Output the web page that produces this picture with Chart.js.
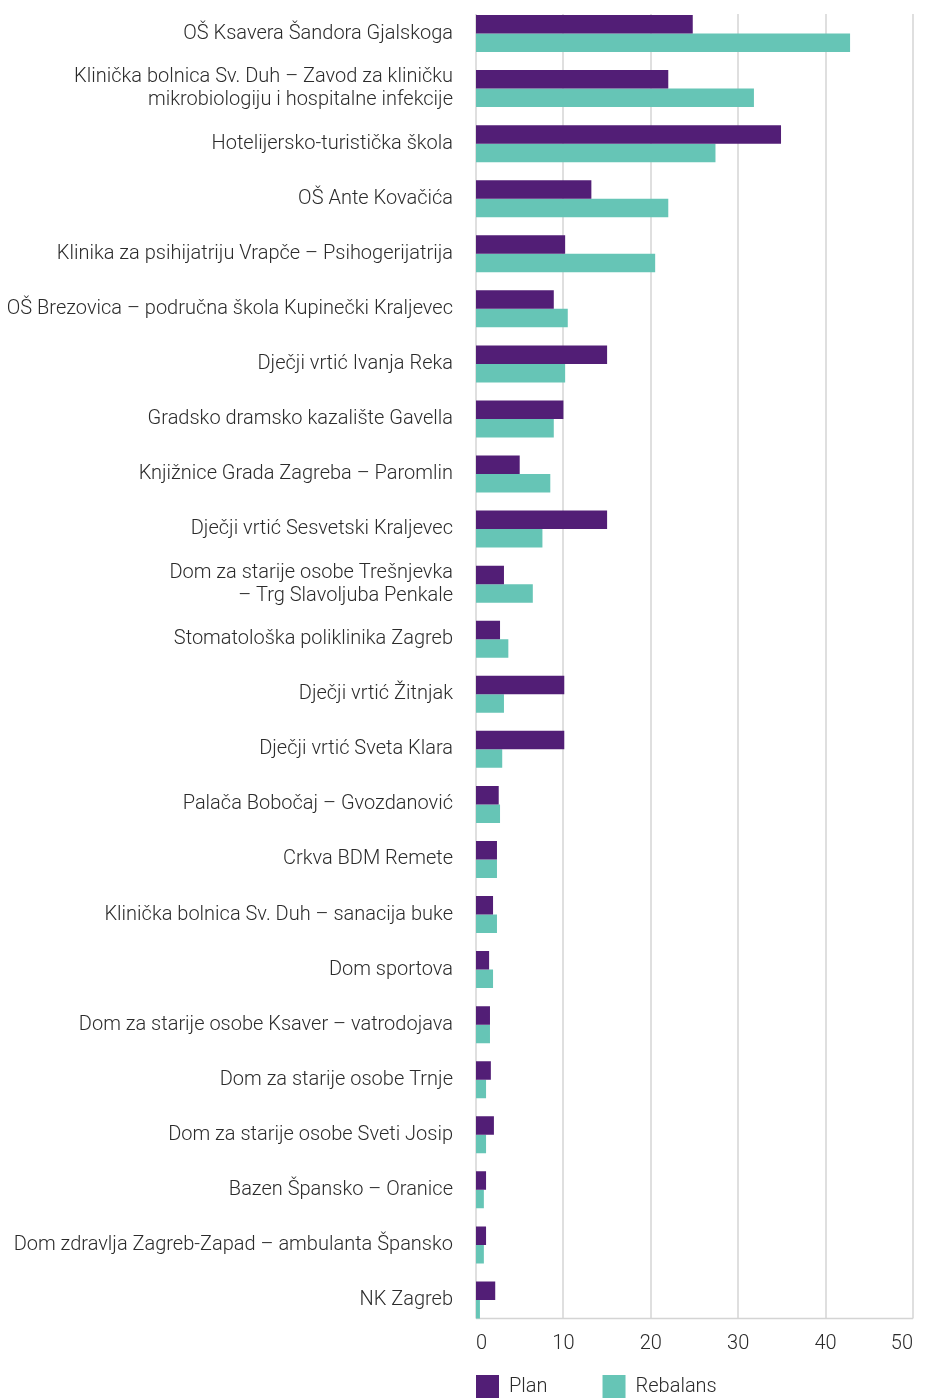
<!DOCTYPE html>
<html>
<head>
<meta charset="utf-8">
<script src="https://cdn.jsdelivr.net/npm/chart.js@4/dist/chart.umd.min.js"></script>
<style>
  html, body { margin: 0; padding: 0; background: #fff; }
  #wrap { width: 925px; height: 1399px; position: relative; }
</style>
</head>
<body>
<div id="wrap"><canvas id="myChart"></canvas></div>
<script>
const categories = [
  "OŠ Ksavera Šandora Gjalskoga",
  ["Klinička bolnica Sv. Duh – Zavod za kliničku", "mikrobiologiju i hospitalne infekcije"],
  "Hotelijersko-turistička škola",
  "OŠ Ante Kovačića",
  "Klinika za psihijatriju Vrapče – Psihogerijatrija",
  "OŠ Brezovica – područna škola Kupinečki Kraljevec",
  "Dječji vrtić Ivanja Reka",
  "Gradsko dramsko kazalište Gavella",
  "Knjižnice Grada Zagreba – Paromlin",
  "Dječji vrtić Sesvetski Kraljevec",
  ["Dom za starije osobe Trešnjevka", "– Trg Slavoljuba Penkale"],
  "Stomatološka poliklinika Zagreb",
  "Dječji vrtić Žitnjak",
  "Dječji vrtić Sveta Klara",
  "Palača Bobočaj – Gvozdanović",
  "Crkva BDM Remete",
  "Klinička bolnica Sv. Duh – sanacija buke",
  "Dom sportova",
  "Dom za starije osobe Ksaver – vatrodojava",
  "Dom za starije osobe Trnje",
  "Dom za starije osobe Sveti Josip",
  "Bazen Špansko – Oranice",
  "Dom zdravlja Zagreb-Zapad – ambulanta Špansko",
  "NK Zagreb"
];
const plan = [24.8, 22.0, 34.9, 13.2, 10.2, 8.9, 15.0, 10.0, 5.0, 15.0, 3.2, 2.75,
              10.1, 10.1, 2.6, 2.4, 1.95, 1.5, 1.6, 1.7, 2.05, 1.15, 1.15, 2.2];
const rebalans = [42.8, 31.8, 27.4, 22.0, 20.5, 10.5, 10.2, 8.9, 8.5, 7.6, 6.5, 3.7,
                  3.2, 3.0, 2.75, 2.4, 2.4, 1.95, 1.6, 1.15, 1.15, 0.9, 0.9, 0.45];
const xTicks = [0, 10, 20, 30, 40, 50];

const PURPLE = "#521e76";
const TEAL = "#66c5b6";
const GRID = "#d4d4d4";
const TEXT = "#2b2b2b";

Chart.defaults.font.family = "Roboto, 'Open Sans', sans-serif";
Chart.defaults.font.weight = 300;
Chart.defaults.color = TEXT;

// grid lines only span the bar block, like the original
const gridPlugin = {
  id: "gridPlugin",
  beforeDatasetsDraw(chart) {
    const { ctx } = chart;
    const x = chart.scales.x, y = chart.scales.y;
    const band = y.getPixelForValue(1) - y.getPixelForValue(0);
    const top = y.getPixelForValue(0) - band * 0.336 - 1;
    const bottom = y.getPixelForValue(categories.length - 1) + band * 0.336;
    ctx.save();
    ctx.strokeStyle = GRID;
    ctx.lineWidth = 1.5;
    xTicks.forEach(t => {
      const px = Math.round(x.getPixelForValue(t));
      ctx.beginPath();
      ctx.moveTo(px, top);
      ctx.lineTo(px, bottom);
      ctx.stroke();
    });
    ctx.beginPath();
    ctx.moveTo(x.getPixelForValue(0), bottom);
    ctx.lineTo(x.getPixelForValue(50), bottom);
    ctx.stroke();
    ctx.restore();
  }
};

// move legend under the plot, left aligned with the axis
const legendPlace = {
  id: "legendPlace",
  afterLayout(chart) {
    const lg = chart.legend;
    const p = lg.options.labels.padding;
    lg.left = chart.chartArea.left - p;
    lg.top = 1375 - p;
  }
};

const ctx = document.getElementById("myChart").getContext("2d");
new Chart(ctx, {
  type: "bar",
  data: {
    labels: categories,
    datasets: [
      { label: "Plan", data: plan, backgroundColor: PURPLE, borderWidth: 0 },
      { label: "Rebalans", data: rebalans, backgroundColor: TEAL, borderWidth: 0 }
    ]
  },
  options: {
    indexAxis: "y",
    responsive: true,
    maintainAspectRatio: false,
    animation: false,
    categoryPercentage: 0.672,
    barPercentage: 1,
    layout: { padding: { top: 6, right: 12, left: 0, bottom: 0 } },
    scales: {
      x: {
        min: 0,
        max: 50,
        afterBuildTicks: (scale) => { scale.ticks = xTicks.map(v => ({ value: v })); },
        afterFit: (scale) => { scale.height = 41.5; },
        grid: { display: false, drawTicks: false },
        border: { display: false },
        ticks: { align: "inner", padding: 4, font: { size: 20, weight: 300 }, color: TEXT }
      },
      y: {
        afterFit: (scale) => {
          scale.width = 476;
          scale.paddingTop = 0;
          scale.paddingBottom = 0;
        },
        grid: { display: false, drawTicks: false },
        border: { display: false },
        ticks: { padding: 23, font: { size: 20, weight: 300, lineHeight: 1.15 }, color: TEXT, autoSkip: false }
      }
    },
    plugins: {
      tooltip: { enabled: false },
      legend: {
        position: "bottom",
        align: "start",
        maxHeight: 30,
        labels: { boxWidth: 23, boxHeight: 23, padding: 55, font: { size: 20, weight: 300 }, color: TEXT }
      }
    }
  },
  plugins: [gridPlugin, legendPlace]
});
</script>
</body>
</html>
